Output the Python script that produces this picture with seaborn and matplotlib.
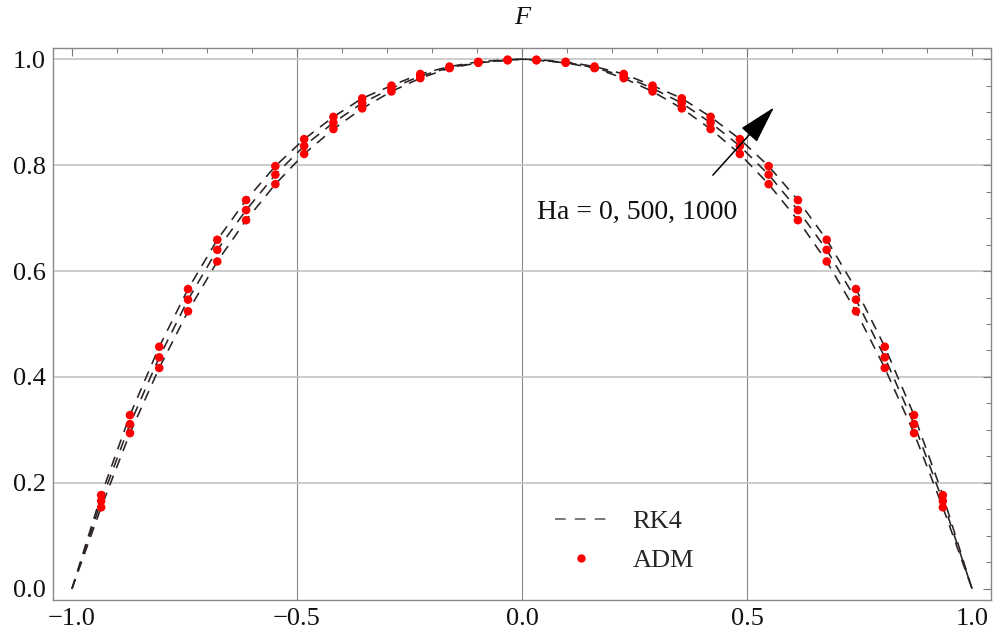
import matplotlib
matplotlib.use("Agg")
import matplotlib.pyplot as plt
import seaborn as sns
import pandas as pd
from matplotlib.lines import Line2D

# ---- data ----
x_adm = [-0.935, -0.871, -0.806, -0.742, -0.677, -0.613, -0.548, -0.484,
         -0.419, -0.355, -0.290, -0.226, -0.161, -0.097, -0.032,
         0.032, 0.097, 0.161, 0.226, 0.290, 0.355, 0.419, 0.484,
         0.548, 0.613, 0.677, 0.742, 0.806, 0.871, 0.935]
F_ha0 = [0.154, 0.294, 0.417, 0.524, 0.618, 0.696, 0.764, 0.821,
         0.868, 0.907, 0.939, 0.964, 0.983, 0.993, 0.998,
         0.998, 0.993, 0.983, 0.964, 0.939, 0.907, 0.868, 0.821,
         0.764, 0.696, 0.618, 0.524, 0.417, 0.294, 0.154]
F_ha500 = [0.166, 0.311, 0.437, 0.546, 0.640, 0.715, 0.782, 0.836,
           0.880, 0.917, 0.945, 0.968, 0.984, 0.994, 0.998,
           0.998, 0.994, 0.984, 0.968, 0.945, 0.917, 0.880, 0.836,
           0.782, 0.715, 0.640, 0.546, 0.437, 0.311, 0.166]
F_ha1000 = [0.177, 0.328, 0.457, 0.566, 0.659, 0.734, 0.798, 0.849,
            0.891, 0.926, 0.950, 0.972, 0.986, 0.995, 0.999,
            0.999, 0.995, 0.986, 0.972, 0.950, 0.926, 0.891, 0.849,
            0.798, 0.734, 0.659, 0.566, 0.457, 0.328, 0.177]
ha_labels = ["Ha = 0", "Ha = 500", "Ha = 1000"]

# RK4 curves: same profile values plus the wall and centre values
x_edges = [-1.0, 0.0, 1.0]
F_edges = [0.0, 1.0, 0.0]

x_ticks = [-1.0, -0.5, 0.0, 0.5, 1.0]
x_ticklabels = ["\u22121.0", "\u22120.5", "0.0", "0.5", "1.0"]
y_ticks = [0.0, 0.2, 0.4, 0.6, 0.8, 1.0]
y_ticklabels = ["0.0", "0.2", "0.4", "0.6", "0.8", "1.0"]

# ---- build tables ----
rows_adm, rows_rk4 = [], []
for lab, F in zip(ha_labels, [F_ha0, F_ha500, F_ha1000]):
    for xv, fv in zip(x_adm, F):
        rows_adm.append((lab, xv, fv))
    xs = [x_edges[0]] + x_adm[:15] + [x_edges[1]] + x_adm[15:] + [x_edges[2]]
    fs = [F_edges[0]] + F[:15] + [F_edges[1]] + F[15:] + [F_edges[2]]
    for xv, fv in zip(xs, fs):
        rows_rk4.append((lab, xv, fv))
adm = pd.DataFrame(rows_adm, columns=["Ha", "x", "F"])
rk4 = pd.DataFrame(rows_rk4, columns=["Ha", "x", "F"])

sns.set_style("white")
plt.rcParams["font.family"] = ["Liberation Serif", "DejaVu Serif"]
plt.rcParams["mathtext.fontset"] = "stix"

fig = plt.figure(figsize=(9.93, 6.37), dpi=100)
ax = fig.add_axes([53 / 993, 1 - 600 / 637, (991 - 53) / 993, (600 - 48) / 637])

line_color = "#2b2222"
dash = (0, (6.5, 5))
for lab in ha_labels:
    sub = rk4[rk4["Ha"] == lab]
    sns.lineplot(data=sub, x="x", y="F", ax=ax, color=line_color, lw=1.15,
                 linestyle=dash, sort=False, estimator=None, legend=False)

sns.scatterplot(data=adm, x="x", y="F", ax=ax, color="#ff0000", s=38,
                edgecolor="none", legend=False, zorder=5)

ax.set_xlim(-1.042, 1.042)
ax.set_ylim(-0.021, 1.021)
ax.set_xticks(x_ticks)
ax.set_xticklabels(x_ticklabels)
ax.set_yticks(y_ticks)
ax.set_yticklabels(y_ticklabels)
ax.set_xticks([i / 10 for i in range(-10, 11)], minor=True)
ax.set_yticks([i / 20 for i in range(0, 21)], minor=True)
ax.tick_params(axis="both", which="both", direction="in", top=True, right=True,
               colors="#777777", labelcolor="#111111", labelsize=19)
ax.tick_params(axis="both", which="major", length=6, width=0.8)
ax.tick_params(axis="both", which="minor", length=3.5, width=0.7)
ax.tick_params(axis="x", pad=6)
ax.tick_params(axis="y", pad=5)
ax.set_xlabel("")
ax.set_ylabel("")

for s in ax.spines.values():
    s.set_color("#888888")
    s.set_linewidth(1.0)

for xv in x_ticks[1:-1]:
    ax.axvline(xv, color="#8a8a8a", lw=0.8, zorder=0)
for yv in y_ticks[1:]:
    ax.axhline(yv, color="#c4c4c4", lw=1.2, zorder=0)

fig.text(522 / 993, 1 - 18 / 637, "F", ha="center", va="center",
         style="italic", fontsize=19, color="#111111")

ax.annotate("", xy=(0.560, 0.909), xytext=(0.424, 0.781),
            arrowprops=dict(arrowstyle="-|>,head_length=1.2,head_width=0.33",
                            mutation_scale=20, color="black", lw=1.1,
                            shrinkA=0, shrinkB=0), zorder=6)
ax.text(0.478, 0.710, "Ha = 0, 500, 1000", ha="right", va="center",
        fontsize=20, color="#111111")

handles = [Line2D([], [], color="#555555", lw=1.1, linestyle=(0, (7, 6))),
           Line2D([], [], color="#ff0000", marker="o", linestyle="none",
                  markersize=6, markeredgewidth=0)]
ax.legend(handles, ["RK4", "ADM"], loc="center left",
          bbox_to_anchor=((531 - 53) / 938, 1 - (541 - 48) / 552),
          frameon=False, fontsize=19, handlelength=2.0, handletextpad=0.95,
          labelspacing=0.6)

fig.savefig("out.png", dpi=100)
